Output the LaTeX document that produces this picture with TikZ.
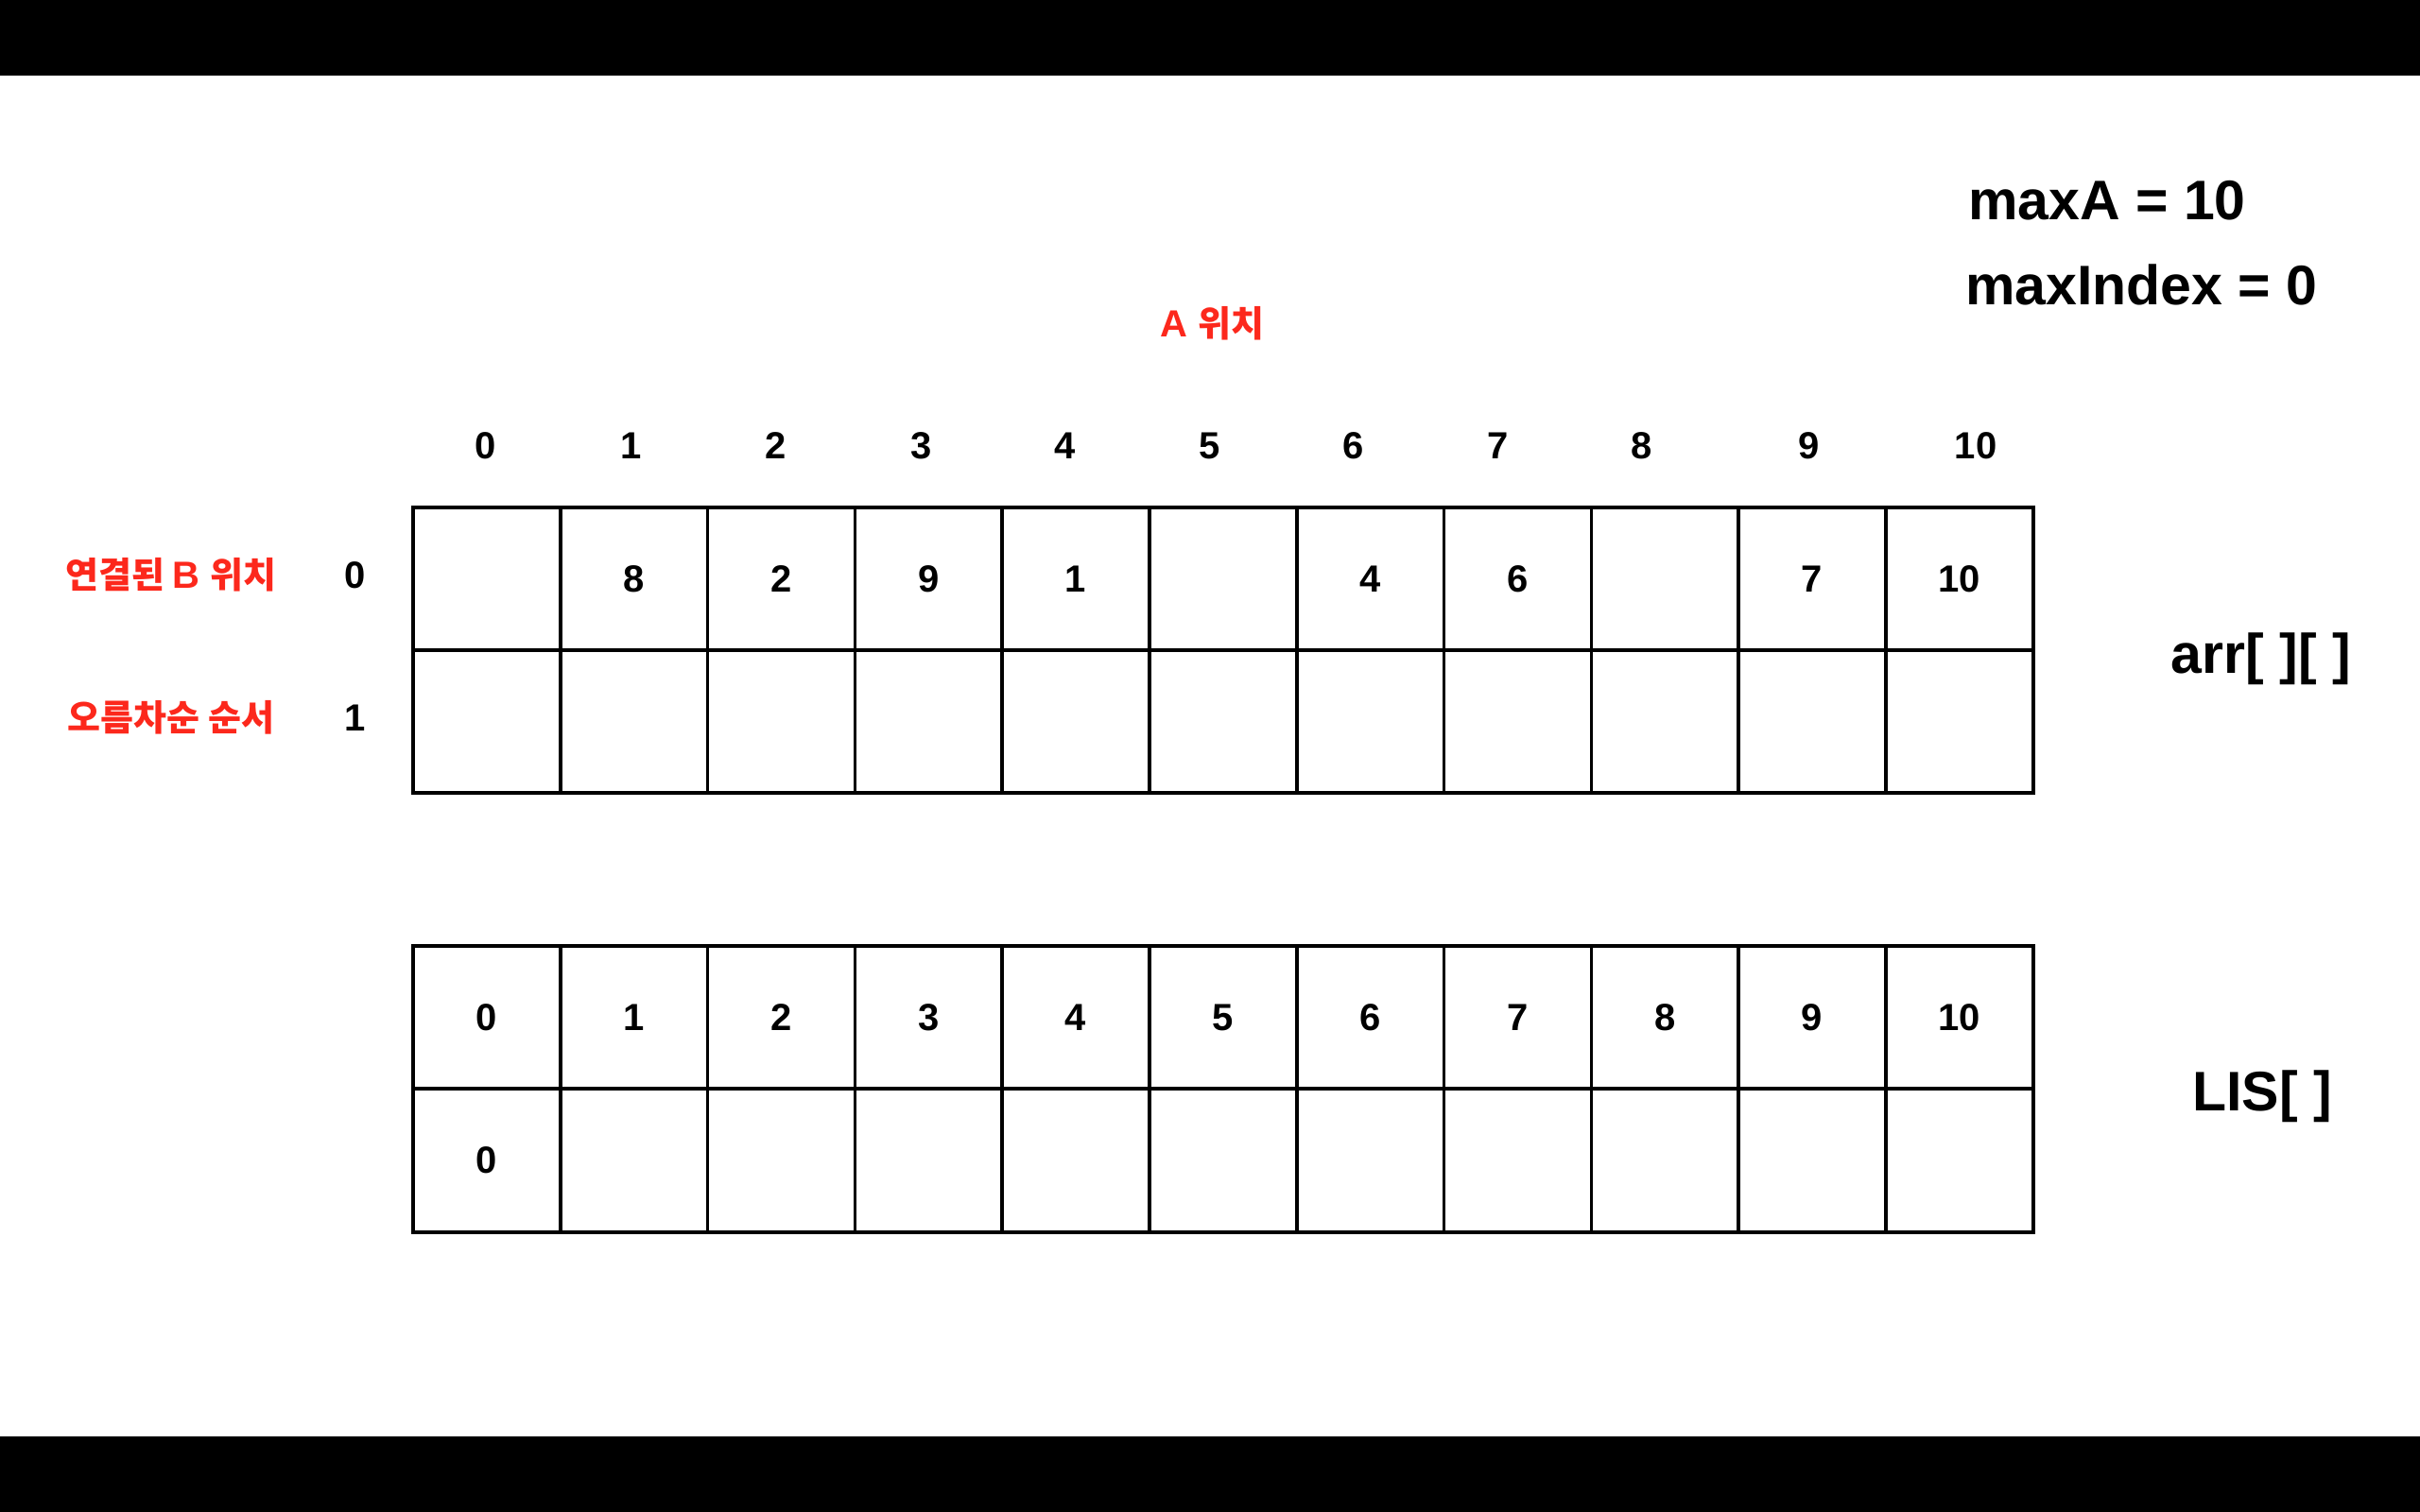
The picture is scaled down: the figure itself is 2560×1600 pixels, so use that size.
\documentclass[tikz,border=0pt]{standalone}
\usepackage{fontspec}
\setmainfont{Liberation Sans}
\newfontfamily\cjk{Noto Sans CJK KR}[Scale=0.95]
\definecolor{lred}{RGB}{252,40,28}
\begin{document}
\begin{tikzpicture}[x=1pt,y=-1pt,
  cell/.style={draw=black,line width=3.7pt,minimum width=155.8pt,minimum height=151.3pt,
    inner sep=0pt,outer sep=0pt,font=\fontsize{40}{48}\selectfont\bfseries},
  num/.style={inner sep=0pt,font=\fontsize{40}{48}\selectfont\bfseries},
  redlbl/.style={inner sep=0pt,text=lred,font=\fontsize{40}{48}\selectfont\bfseries},
  big/.style={inner sep=0pt,font=\fontsize{59}{70}\selectfont\bfseries}]
\useasboundingbox (0,0) rectangle (2560,1600);
\fill[black] (0,0) rectangle (2560,80);
\fill[black] (0,1520) rectangle (2560,1600);
% arr table
\foreach \v [count=\i from 0] in {{},8,2,9,1,{},4,6,{},7,10}
  \node[cell] (a0-\i) at ({514.9+155.8*\i},612.5) {\v};
\foreach \i in {0,...,10}
  \node[cell] (a1-\i) at ({514.9+155.8*\i},763.5) {};
% LIS table
\foreach \i in {0,...,10}
  \node[cell] (l0-\i) at ({514.9+155.8*\i},1076.5) {\i};
\node[cell] (l1-0) at (514.9,1228) {0};
\foreach \i in {1,...,10}
  \node[cell] (l1-\i) at ({514.9+155.8*\i},1228) {};
% column headers
\foreach \x/\t in {514/0,668/1,821/2,975/3,1127/4,1280/5,1432/6,1585/7,1737/8,1914/9,2090/10}
  \node[num] (h\t) at (\x,472) {\t};
% row labels
\node[num] (r0) at (376,609) {0};
\node[num] (r1) at (376,760) {1};
\node[redlbl] (lblB) at (181,608) {\cjk 연결된 \rmfamily B \cjk 위치};
\node[redlbl] (lblAsc) at (181,759) {\cjk 오름차순 순서};
\node[redlbl] (lblA) at (1282,342) {A \cjk 위치};
% right side texts
\node[big,anchor=base west] (maxa) at (2082,232) {maxA = 10};
\node[big,anchor=base west] (maxi) at (2079,322) {maxIndex = 0};
\node[big,anchor=base] (arr) at (2392,712) {arr[ ][ ]};
\node[big,anchor=base] (lis) at (2393,1175) {LIS[ ]};
\end{tikzpicture}
\end{document}
